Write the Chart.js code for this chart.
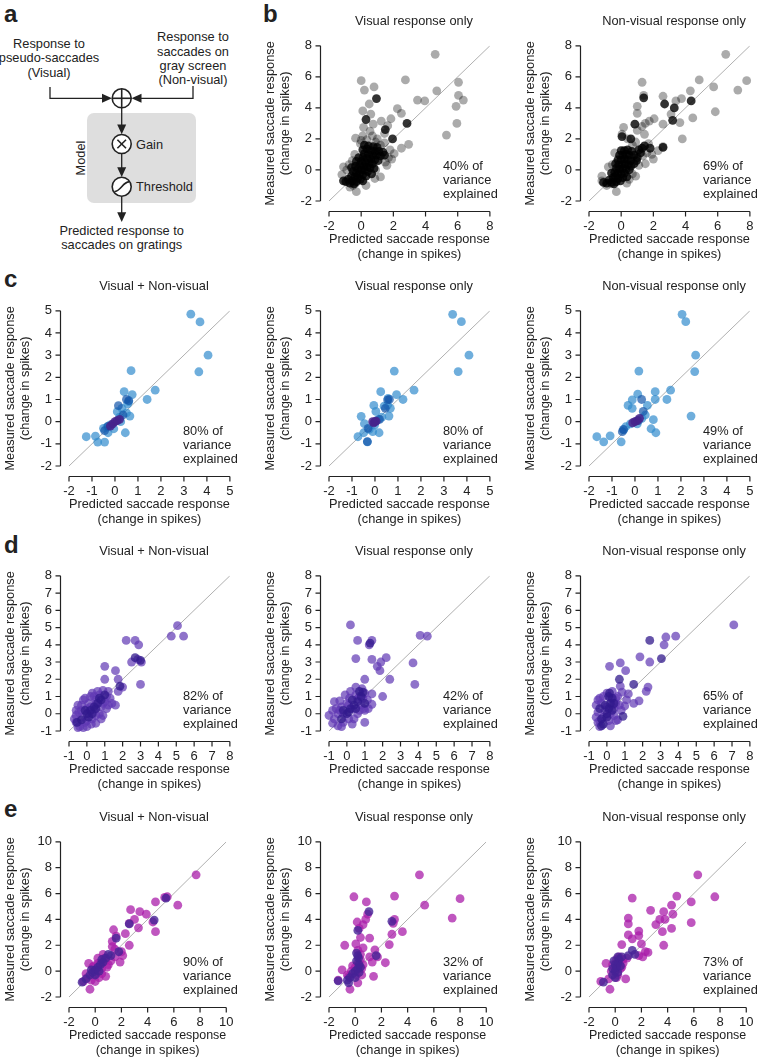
<!DOCTYPE html>
<html lang="en">
<head>
<meta charset="UTF-8">
<title>Predicted vs measured saccade responses</title>
<script src="https://cdn.jsdelivr.net/npm/chart.js@4.4.1/dist/chart.umd.min.js"></script>
<style>
  html, body { margin: 0; padding: 0; overflow: hidden; background: #fff; }
  body { width: 770px; height: 1057px; position: relative; font-family: "Liberation Sans", Arial, sans-serif; color: #222; }
  .letter { position: absolute; font-size: 24px; font-weight: bold; line-height: 24px; }
  .ttl { position: absolute; width: 250px; text-align: center; font-size: 12.8px; line-height: 14px; white-space: nowrap; }
  .note { position: absolute; font-size: 12.8px; line-height: 14px; white-space: nowrap; }
  #diagram { position: absolute; left: 0; top: 0; }
</style>
</head>
<body>

<svg id="diagram" width="250" height="255" font-family="Liberation Sans, Arial, sans-serif" font-size="12.8" fill="#222">
  <rect x="87" y="113" width="109" height="90" rx="7" fill="#dedede"/>
  <g text-anchor="middle">
    <text x="49" y="47.5">Response to</text>
    <text x="49" y="62">pseudo-saccades</text>
    <text x="49" y="76.5">(Visual)</text>
    <text x="193" y="41">Response to</text>
    <text x="193" y="55.5">saccades on</text>
    <text x="193" y="70">gray screen</text>
    <text x="193" y="84">(Non-visual)</text>
    <text x="121.7" y="234.5">Predicted response to</text>
    <text x="121.7" y="248.5">saccades on gratings</text>
    <text transform="translate(84.5,158) rotate(-90)">Model</text>
  </g>
  <text x="136" y="148.5">Gain</text>
  <text x="136" y="191">Threshold</text>
  <g stroke="#222" stroke-width="1.3" fill="none">
    <polyline points="50,87 50,98.3 104,98.3"/>
    <polyline points="193,86 193,98.3 140,98.3"/>
    <line x1="121.7" y1="108" x2="121.7" y2="126"/>
    <line x1="121.7" y1="153.5" x2="121.7" y2="169"/>
    <line x1="121.7" y1="196.2" x2="121.7" y2="214"/>
  </g>
  <g fill="#222">
    <polygon points="112,98.3 102,93.8 102,102.8"/>
    <polygon points="131.5,98.3 141.5,93.8 141.5,102.8"/>
    <polygon points="121.7,134.3 117.2,124.5 126.2,124.5"/>
    <polygon points="121.7,177 117.2,167.2 126.2,167.2"/>
    <polygon points="121.7,222 117.2,212.2 126.2,212.2"/>
  </g>
  <g stroke="#222" stroke-width="1.6" fill="#fff">
    <circle cx="121.7" cy="98.3" r="9.5"/>
    <circle cx="121.7" cy="144" r="9.5"/>
    <circle cx="121.7" cy="186.7" r="9.5"/>
  </g>
  <g stroke="#222" stroke-width="1.6" fill="none">
    <line x1="112.2" y1="98.3" x2="131.2" y2="98.3"/>
    <line x1="121.7" y1="88.8" x2="121.7" y2="107.8"/>
    <line x1="117.4" y1="139.7" x2="126" y2="148.3"/>
    <line x1="126" y1="139.7" x2="117.4" y2="148.3"/>
    <path d="M114.5 191.5 Q117.5 191.5 121.7 186.7 T129 181.9"/>
  </g>
</svg>

<script>
// ---- tick values ----
const bTicks = [-2, 0, 2, 4, 6, 8];
const cTicks = [-2, -1, 0, 1, 2, 3, 4, 5];
const dTicks = [-1, 0, 1, 2, 3, 4, 5, 6, 7, 8];
const eTicks = [-2, 0, 2, 4, 6, 8, 10];

// ---- panel titles / variance explained ----
const rowTitles = ['Visual + Non-visual', 'Visual response only', 'Non-visual response only'];
const bExplained = ['40%', '69%'];
const cExplained = ['80%', '80%', '49%'];
const dExplained = ['82%', '42%', '65%'];
const eExplained = ['90%', '32%', '73%'];

// ---- data: [predicted, measured] ----
// b: all neurons, gray
const bVisualLight = [[4.6,7.45],[0.0,5.75],[2.75,5.8],[0.2,5.15],[0.8,5.35],[4.7,5.1],[3.5,4.5],[3.95,4.45],[6.05,5.65],[6.05,4.8],[6.35,4.5],[5.9,4.1],[5.95,3.0],[5.3,2.25],
  [2.25,3.95],[2.5,3.65],[1.85,3.3],[1.65,2.85],[1.25,3.15],[0.5,4.25],[0.1,3.8],[0.6,3.6],[0.15,2.75],[0.75,2.95],[-0.35,2.05],[0.1,2.2],[1.0,2.0],[1.2,1.6],[2.05,1.05],[1.9,0.7],
  [2.5,1.4],[2.95,1.65],[1.2,-0.45],[0.85,-0.55],[-0.3,-1.4],[-0.35,-0.85],[0.55,2.5],[0.35,1.95],[1.45,2.35],[0.7,2.2],[-0.05,1.7],[-0.55,0.6],[-1.1,0.2],[-0.75,0.35],[1.6,0.3],
  [1.45,1.75],[0.9,0.0],[-0.5,-1.0],[-1.2,-0.3],[-0.9,0.0],[1.7,0.8],[1.8,1.3],[-0.7,-1.1],[0.3,-1.0],[1.5,0.5],[-0.4,1.0],[0.0,1.9],[0.9,1.8]];
const bVisualDark = [[0.95,4.6],[0.3,3.25],[2.85,3.0],[1.95,2.0],[1.5,2.6],
  [-1.1,-0.7],[-0.95,-0.75],[-0.8,-0.6],[-0.7,-0.85],[-0.55,-0.7],[-0.45,-0.9],[-0.3,-0.75],[-0.6,-0.4],[-0.4,-0.45],[-0.2,-0.5],[-0.05,-0.6],[0.1,-0.7],[-0.3,-0.2],[-0.1,-0.25],
  [0.1,-0.3],[0.3,-0.4],[-0.5,-0.1],[-0.2,0.05],[0.0,0.0],[0.2,0.0],[0.4,-0.1],[-0.35,0.25],[-0.1,0.3],[0.15,0.25],[0.35,0.2],[0.55,0.15],[0.0,0.55],[0.25,0.5],[0.5,0.45],[0.7,0.4],
  [-0.15,0.8],[0.1,0.8],[0.35,0.75],[0.6,0.7],[0.85,0.65],[1.05,0.6],[0.2,1.05],[0.45,1.0],[0.7,0.95],[0.95,0.95],[1.2,0.9],[1.45,0.95],[0.1,1.3],[0.35,1.35],[0.6,1.25],[0.85,1.2],
  [1.1,1.2],[1.35,1.15],[0.45,1.55],[0.75,1.5],[1.0,1.45],[0.2,1.6],[-0.3,0.55],[-0.6,0.15],[0.65,-0.25],[0.8,0.1]];
const bNonVisualLight = [[6.5,7.45],[1.3,5.65],[4.85,5.8],[7.8,5.75],[5.75,5.35],[7.25,5.15],[1.4,4.8],[4.3,5.1],[2.6,4.75],[3.4,4.45],[3.75,4.6],[4.45,3.35],[5.85,3.75],[3.8,2.0],
  [3.1,3.6],[3.65,3.05],[2.6,2.95],[1.0,4.1],[1.0,3.65],[1.3,2.8],[1.75,3.15],[2.05,3.3],[1.5,3.0],[0.15,2.75],[0.05,2.3],[1.45,2.3],[1.0,2.55],[1.7,1.7],[2.6,1.5],[2.3,1.25],
  [2.0,0.7],[1.35,0.9],[0.7,-0.25],[0.5,-0.6],[-0.3,-1.4],[-1.2,-0.7],[-0.6,-0.9],[0.9,1.8],[0.4,2.0],[1.9,1.0],[-0.55,0.35],[0.35,-0.85],[1.1,0.3],
  [-1.2,-0.4],[-0.8,0.2],[0.9,-0.4],[1.5,0.4],[-0.4,1.1],[0.7,1.6],[1.6,1.1],[-0.9,-1.0]];
const bNonVisualDark = [[1.4,4.65],[2.7,4.25],[4.35,4.45],[3.3,4.0],[3.2,3.2],[0.85,2.95],[0.05,2.15],[0.6,2.0],[1.45,1.55],[2.6,1.45],[1.8,1.4],[1.1,1.3],
  [-1.1,-0.8],[-0.9,-0.85],[-0.75,-0.65],[-0.6,-0.8],[-0.45,-0.9],[-0.3,-0.75],[-0.5,-0.5],[-0.35,-0.4],[-0.2,-0.55],[-0.05,-0.7],[0.1,-0.5],[-0.4,-0.15],[-0.2,-0.2],[0.0,-0.25],
  [0.2,-0.2],[0.35,-0.45],[-0.3,0.1],[-0.1,0.05],[0.1,0.1],[0.3,0.05],[0.5,0.0],[-0.35,0.4],[-0.15,0.35],[0.05,0.35],[0.25,0.4],[0.45,0.35],[-0.2,0.65],[0.0,0.65],[0.2,0.7],
  [0.4,0.65],[0.6,0.6],[-0.1,0.95],[0.1,0.95],[0.3,1.0],[0.5,0.95],[0.0,1.25],[0.2,1.25],[0.4,1.3],[0.65,1.2],[0.8,0.95],[0.8,0.4],[1.0,0.8],[1.2,1.1],[1.3,1.4],[-0.6,-0.2],
  [0.6,0.25],[0.95,0.6]];

// c: blue
const cBothLight = [[3.3,4.85],[3.7,4.5],[4.05,3.0],[3.65,2.25],[0.7,2.3],[1.75,1.42],[1.4,1.0],[0.4,1.35],[0.75,1.22],[0.55,0.8],[0.65,0.25],[0.45,-0.5],[-1.25,-0.68],[-0.85,-0.65],
  [-0.75,-0.92],[-0.45,-0.92],[-0.3,-0.5],[-0.05,-0.32],[-0.2,-0.15],[0.1,0.45],[0.3,0.6],[0.5,0.4],[-0.5,-0.3],[0.2,0.2],[0.6,0.9],[0.25,0.0],[-0.35,-0.25]];
const cBothDark = [[0.5,1.0],[0.15,0.72],[0.6,0.95],[-0.45,-0.4],[0.35,0.3],[-0.3,-0.2]];
const cBothCore = [[-0.1,-0.1],[0.0,0.0],[0.1,0.05],[-0.2,-0.2],[0.2,0.1]];
const cVisualLight = [[3.38,4.84],[3.76,4.51],[4.09,3.0],[3.62,2.26],[0.84,2.28],[1.7,1.42],[1.22,1.0],[0.94,1.22],[0.25,1.35],[-0.05,0.73],[0.04,0.46],[0.57,1.05],[0.67,0.6],
  [0.61,0.25],[0.18,-0.5],[-0.6,0.24],[-0.46,-0.09],[-0.74,-0.68],[-0.33,-0.91],[-0.49,-0.5],[-0.02,-0.16],[0.3,0.2],[0.4,0.7],[0.15,0.1],[-0.25,-0.35],[0.55,0.75],[-0.1,-0.45]];
const cVisualDark = [[0.63,1.0],[0.55,0.98],[-0.33,-0.9],[-0.3,-0.3],[0.45,0.6],[0.2,0.1]];
const cVisualCore = [[0.0,0.0],[-0.05,-0.05],[0.05,0.02],[-0.1,0.0]];
const cNonVisualLight = [[2.05,4.84],[2.21,4.51],[2.64,3.0],[2.6,2.26],[2.44,0.25],[0.17,2.28],[1.55,1.42],[1.39,1.0],[0.88,1.35],[0.88,1.0],[0.12,1.24],[-0.12,0.98],[-0.3,0.73],
  [-0.12,0.6],[0.54,0.73],[0.8,0.09],[0.7,-0.32],[0.91,-0.5],[-1.66,-0.68],[-1.36,-0.91],[-1.08,-0.64],[-0.6,-0.91],[-0.49,-0.37],[-0.4,-0.23],[0.3,0.15],[0.1,-0.1],[-0.2,-0.1],[0.45,0.3]];
const cNonVisualDark = [[0.29,1.0],[0.36,0.46],[-0.55,-0.45],[-0.5,-0.35],[0.15,0.05]];
const cNonVisualCore = [[0.0,0.0],[0.1,0.05],[-0.1,-0.05],[0.2,0.15]];

// d: violet
const dBothLight = [[5.07,5.11],[4.72,4.5],[5.41,4.5],[2.2,4.25],[2.7,4.25],[2.9,4.0],[2.85,3.15],[2.5,3.0],[3.05,3.0],[3.0,1.7],[1.0,2.75],[1.0,2.0],[1.6,2.5],[2.0,1.55],[1.75,1.3],
  [1.6,0.5],[1.75,2.0],[-0.5,0.5],[-0.6,-0.5],[-0.4,-0.75],[0.0,-0.75],[0.5,-0.55],[0.9,1.35],[1.1,1.0],[1.3,0.9],[1.2,0.5],[0.6,1.3],[0.2,1.0],[-0.2,0.8],[0.0,0.3],[0.4,0.2],
  [0.8,0.4],[0.3,-0.3],[-0.3,-0.2],[0.7,0.0],[1.0,0.7],[-0.1,-0.5],[0.5,0.8],[0.1,0.6],[0.9,-0.1],[1.4,0.6],[-0.45,0.1],[0.25,-0.6],
  [-0.7,-0.3],[-0.6,0.2],[-0.3,0.5],[-0.1,0.9],[0.3,1.2],[0.7,1.1],[1.2,1.3],[0.8,-0.3],[0.5,-0.1],[-0.2,-0.8],[-0.5,-0.8],[0.1,0.0],[0.5,0.55],[0.9,0.6],[-0.3,0.2],[0.2,0.4],
  [1.1,0.3],[0.4,1.0],[-0.6,-0.1],[0.0,-0.4]];
const dBothDark = [[2.7,3.25],[3.0,3.1],[1.85,1.6],[-0.55,-0.5],[-0.3,-0.35],[0.0,0.0],[0.2,0.2],[0.4,0.4],[0.6,0.6],[0.8,0.8],[-0.1,0.2],[0.3,0.0],[0.1,-0.2],[0.5,0.3],[0.7,0.9],[1.0,1.1]];
const dVisualLight = [[0.2,5.15],[0.6,4.25],[1.4,4.25],[1.25,4.0],[0.5,3.2],[1.4,3.15],[1.9,3.0],[2.2,3.25],[1.7,2.75],[1.85,2.5],[2.4,2.0],[1.0,2.0],[4.1,4.55],[4.5,4.5],[3.7,2.95],
  [3.8,1.7],[2.0,1.0],[1.4,1.15],[1.4,0.55],[1.0,0.2],[1.0,-0.5],[-1.0,-0.1],[-0.8,-0.55],[-0.7,0.7],[-0.4,0.75],[-0.1,1.1],[0.5,1.55],[0.85,1.45],[1.0,1.2],[1.15,0.8],[0.7,0.2],
  [0.4,-0.3],[-0.2,-0.5],[-0.5,-0.7],[-0.3,-0.75],[0.1,-0.3],[-0.6,0.3],[-0.3,0.4],[0.9,0.9],[0.3,0.3],[0.0,0.6],[0.95,0.3],[0.6,0.85],[-0.8,0.2],
  [-0.5,0.0],[-0.2,0.0],[0.1,0.5],[0.5,1.1],[0.2,1.3],[0.8,0.5],[0.3,-0.6],[-0.7,-0.3],[0.6,0.0],[1.2,0.3],[-0.4,0.2],[0.7,1.0],[0.15,0.9]];
const dVisualDark = [[1.3,4.1],[-0.3,-0.3],[0.0,0.0],[0.2,0.3],[0.4,0.5],[0.6,0.7],[0.8,1.0],[0.1,0.1],[-0.2,0.2],[0.5,0.3],[0.3,0.8],[0.7,1.3],[1.0,0.6],[0.9,1.25]];
const dNonVisualLight = [[7.1,5.15],[3.85,4.5],[3.3,4.45],[3.2,4.0],[2.4,3.0],[1.85,3.3],[0.75,2.95],[1.05,2.5],[0.15,2.75],[0.75,1.6],[0.85,1.25],[2.3,1.55],[2.2,1.3],[1.8,0.75],
  [1.5,0.6],[1.2,1.15],[1.1,0.8],[1.0,0.45],[0.5,-0.4],[-0.6,0.5],[-0.5,-0.5],[-0.4,-0.75],[0.2,-0.7],[0.6,-0.35],[0.5,0.9],[0.3,1.3],[-0.2,1.0],[-0.4,0.9],[0.0,0.4],[0.4,0.3],
  [-0.2,-0.2],[0.2,0.0],[0.7,0.5],[-0.5,0.1],
  [-0.6,-0.2],[-0.3,0.6],[0.0,1.2],[0.2,0.9],[0.5,0.6],[-0.1,0.2],[0.1,-0.4],[0.4,-0.1],[-0.4,-0.4],[0.3,0.5],[0.6,1.0],[-0.5,0.8],[0.8,0.2]];
const dNonVisualDark = [[2.4,4.25],[3.05,3.2],[0.7,2.0],[1.5,1.7],[0.9,-0.15],[-0.3,-0.3],[0.0,0.0],[0.1,0.3],[0.2,0.6],[0.3,0.9],[-0.1,0.5],[0.1,1.0],[-0.2,-0.6],[0.0,-0.2],
  [0.3,0.2],[-0.4,0.3],[0.4,0.6],[0.15,1.2],[-0.3,-0.7]];

// e: magenta
const eBothLight = [[7.7,7.45],[5.3,5.7],[5.5,5.75],[6.3,5.1],[4.6,5.35],[4.4,3.8],[4.6,3.05],[3.9,4.4],[3.4,4.6],[2.7,4.75],[3.0,4.0],[2.6,3.7],[3.3,3.35],[2.3,2.9],[2.6,2.0],
  [1.4,3.2],[1.6,2.7],[1.3,2.3],[1.3,1.9],[1.5,1.7],[2.0,1.5],[2.1,1.2],[1.9,0.7],[0.8,0.8],[0.2,1.0],[-0.4,-1.4],[0.8,-0.4],[0.6,1.3],[1.0,0.5],[-0.5,0.6],[-0.9,-0.8],[-0.7,-0.2],
  [0.3,-0.5],[1.5,1.1],[0.5,0.2],[-0.2,0.3],[0.0,-0.8],
  [-0.6,-0.5],[-0.3,-0.7],[0.1,-0.2],[0.4,0.6],[0.7,1.0],[0.2,0.6],[-0.1,0.4],[0.5,-0.2],[1.2,0.8],[0.9,0.3]];
const eBothDark = [[5.4,5.65],[4.5,3.95],[2.6,3.65],[1.6,2.55],[1.8,1.5],[1.0,1.3],[-1.0,-0.85],[-0.7,-0.6],[-0.4,-0.3],[-0.2,-0.1],[0.0,0.1],[0.2,0.3],[0.4,0.5],[0.6,0.7],[0.8,1.0],
  [0.0,-0.3],[-0.3,0.1],[0.3,0.0],[1.2,1.2],[0.5,0.9]];
const eVisualLight = [[4.9,7.45],[8.0,5.6],[5.3,5.1],[7.4,4.1],[3.0,5.8],[-0.1,5.75],[0.85,5.35],[0.95,4.4],[0.8,4.0],[0.6,3.6],[0.15,3.8],[0.3,3.3],[0.4,2.6],[1.1,2.55],[2.9,3.7],
  [3.0,4.0],[3.6,3.05],[2.8,2.85],[2.6,2.05],[-0.8,2.0],[0.05,2.1],[0.6,1.8],[1.5,1.65],[1.7,1.1],[2.3,0.65],[1.3,0.7],[1.1,1.1],[1.4,-0.4],[-0.4,-1.4],[0.2,-0.9],[-1.3,-0.7],
  [-1.0,0.1],[-0.5,-0.4],[0.5,0.2],[0.5,-0.3],[-0.2,0.4],[0.2,0.6],
  [-0.3,0.0],[0.0,0.3],[0.1,-0.3],[0.4,0.9],[-0.6,-0.3],[0.6,0.5],[0.2,1.6],[0.4,1.3]];
const eVisualDark = [[1.05,4.6],[0.2,3.15],[2.8,3.85],[1.6,1.2],[0.1,1.4],[0.2,1.2],[0.3,0.5],[0.25,1.0],[-0.6,-0.7],[-0.4,-0.5],[-0.2,-0.2],[0.0,0.0],[0.2,0.2],[0.4,0.3],[0.1,0.8],
  [-0.5,-0.9],[0.3,-0.1],[0.0,-0.5],[-1.3,-0.75]];
const eNonVisualLight = [[6.3,7.45],[7.6,5.75],[5.8,5.35],[4.7,5.8],[4.3,5.1],[4.4,4.4],[3.7,4.6],[3.4,4.0],[3.8,4.0],[3.1,3.6],[3.6,3.05],[4.3,3.3],[5.8,3.75],[3.7,2.0],[2.7,4.7],
  [1.3,5.65],[1.0,4.1],[1.0,3.65],[1.0,2.8],[1.3,2.5],[1.8,3.1],[1.8,2.75],[2.0,2.1],[2.3,1.5],[2.5,1.45],[1.8,1.2],[2.1,1.1],[0.5,2.05],[-0.7,0.6],[-1.1,-0.8],[-0.4,-1.4],
  [0.8,-0.6],[0.9,1.0],[0.6,0.9],[0.3,1.1],[-0.2,0.5],[0.4,0.2],[0.1,-0.5],
  [-0.3,0.0],[0.0,0.2],[0.3,0.6],[0.1,0.9],[0.5,0.3],[-0.5,-0.6],[0.6,0.6],[0.2,-0.3]];
const eNonVisualDark = [[1.5,1.3],[1.3,1.6],[-0.9,-0.85],[-0.2,-0.3],[0.0,0.0],[0.1,0.3],[0.2,0.6],[0.3,0.9],[0.0,0.5],[0.2,-0.1],[-0.1,0.8],[0.4,0.4],[0.2,1.1],[0.0,-0.5],
  [-0.2,0.2],[0.5,1.1],[1.0,1.2]];

// ---- colours ----
const gray = ['rgba(0,0,0,0.33)', 'rgba(0,0,0,0.8)'];
const blue = ['rgba(50,140,205,0.7)', 'rgba(20,85,170,0.7)', 'rgba(70,35,140,0.85)'];
const violet = ['rgba(95,55,180,0.7)', 'rgba(50,25,140,0.75)'];
const magenta = ['rgba(170,30,170,0.75)', 'rgba(70,35,150,0.8)'];

// ---- layout ----
const colX = [69, 329, 589];
const PLOT = 170;
const FONT = 'Liberation Sans, Arial, sans-serif';

// offset axis lines and outward ticks, drawn at the library's tick positions
const spines = {
  id: 'spines',
  afterDraw(chart) {
    const { ctx, chartArea: a, scales: { x, y } } = chart;
    const xt = x.ticks.map(t => t.value), yt = y.ticks.map(t => t.value);
    const sx = Math.round(a.left - 9) + 0.5, sy = Math.round(a.bottom + 10) + 0.5;
    ctx.save();
    ctx.strokeStyle = '#222';
    ctx.lineWidth = 1.2;
    ctx.beginPath();
    ctx.moveTo(sx, y.getPixelForValue(yt[0]));
    ctx.lineTo(sx, y.getPixelForValue(yt[yt.length - 1]));
    yt.forEach(v => { const p = y.getPixelForValue(v); ctx.moveTo(sx, p); ctx.lineTo(sx - 5, p); });
    ctx.moveTo(x.getPixelForValue(xt[0]), sy);
    ctx.lineTo(x.getPixelForValue(xt[xt.length - 1]), sy);
    xt.forEach(v => { const p = x.getPixelForValue(v); ctx.moveTo(p, sy); ctx.lineTo(p, sy + 5); });
    ctx.stroke();
    ctx.restore();
  }
};

function addText(cls, left, top, html) {
  const d = document.createElement('div');
  d.className = cls;
  d.style.left = left + 'px';
  d.style.top = top + 'px';
  d.innerHTML = html;
  document.body.appendChild(d);
}

function makePlot(left, top, ticks, sets, colors, title, explained) {
  const cv = document.createElement('canvas');
  cv.width = 252;
  cv.height = 245;
  cv.style.cssText = `position:absolute;left:${left - 70}px;top:${top - 10}px;`;
  document.body.appendChild(cv);

  const lo = ticks[0], hi = ticks[ticks.length - 1];
  const datasets = [{
    data: [{ x: lo, y: lo }, { x: hi, y: hi }],
    showLine: true, borderColor: '#b0b0b0', borderWidth: 1, pointRadius: 0, order: 9
  }];
  sets.forEach((pts, i) => datasets.push({
    data: pts.map(([x, y]) => ({ x, y })),
    backgroundColor: colors[i], borderWidth: 0, pointRadius: 4.4, pointHoverRadius: 4.4,
    order: 5 - i, clip: false
  }));

  const axis = (size, pad, label, titlePad) => ({
    type: 'linear', min: lo, max: hi,
    afterBuildTicks: s => { s.ticks = ticks.map(v => ({ value: v })); },
    afterFit: s => { if (size.w) s.width = size.w; else s.height = size.h; },
    grid: { display: false, drawTicks: false },
    border: { display: false },
    ticks: { padding: pad, color: '#222', font: { size: 13, family: FONT },
             autoSkip: false, maxRotation: 0, minRotation: 0, callback: v => String(v) },
    title: { display: true, text: label, color: '#222', padding: titlePad,
             font: { size: 12.8, lineHeight: 1.18, family: FONT } }
  });

  new Chart(cv, {
    type: 'scatter',
    data: { datasets },
    options: {
      responsive: false, animation: false, events: [],
      layout: { padding: { top: 10, right: 12, bottom: 0, left: 0 } },
      plugins: { legend: { display: false }, tooltip: { enabled: false } },
      scales: {
        x: axis({ h: 65 }, 17.5, ['Predicted saccade response', '(change in spikes)'], { top: 0, bottom: 4 }),
        y: axis({ w: 70 }, 17, ['Measured saccade response', '(change in spikes)'], { top: 4.3, bottom: 0 })
      }
    },
    plugins: [spines]
  });

  addText('ttl', left + PLOT / 2 - 125, top - 17, title);
  addText('note', left + 114, top + PLOT - 42, explained + ' of<br>variance<br>explained');
}

// panel letters
addText('letter', 4, 2, 'a');
addText('letter', 263, 2, 'b');
addText('letter', 4, 267, 'c');
addText('letter', 4, 533, 'd');
addText('letter', 4, 797, 'e');

// b
makePlot(colX[1], 31, bTicks, [bVisualLight, bVisualDark], gray, rowTitles[1], bExplained[0]);
makePlot(colX[2], 31, bTicks, [bNonVisualLight, bNonVisualDark], gray, rowTitles[2], bExplained[1]);
// c
makePlot(colX[0], 296, cTicks, [cBothLight, cBothDark, cBothCore], blue, rowTitles[0], cExplained[0]);
makePlot(colX[1], 296, cTicks, [cVisualLight, cVisualDark, cVisualCore], blue, rowTitles[1], cExplained[1]);
makePlot(colX[2], 296, cTicks, [cNonVisualLight, cNonVisualDark, cNonVisualCore], blue, rowTitles[2], cExplained[2]);
// d
makePlot(colX[0], 561, dTicks, [dBothLight, dBothDark], violet, rowTitles[0], dExplained[0]);
makePlot(colX[1], 561, dTicks, [dVisualLight, dVisualDark], violet, rowTitles[1], dExplained[1]);
makePlot(colX[2], 561, dTicks, [dNonVisualLight, dNonVisualDark], violet, rowTitles[2], dExplained[2]);
// e
makePlot(colX[0], 827, eTicks, [eBothLight, eBothDark], magenta, rowTitles[0], eExplained[0]);
makePlot(colX[1], 827, eTicks, [eVisualLight, eVisualDark], magenta, rowTitles[1], eExplained[1]);
makePlot(colX[2], 827, eTicks, [eNonVisualLight, eNonVisualDark], magenta, rowTitles[2], eExplained[2]);
</script>
</body>
</html>
